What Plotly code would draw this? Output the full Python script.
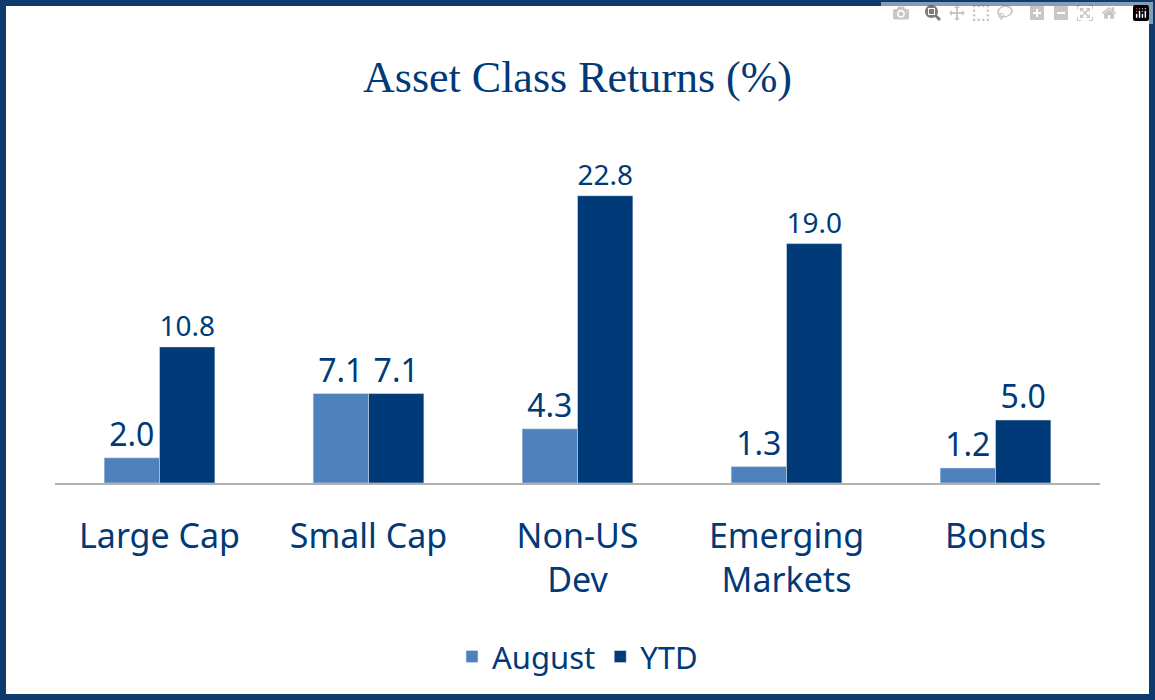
import plotly.graph_objects as go

categories = ["Large Cap", "Small Cap", "Non-US<br>Dev", "Emerging<br>Markets", "Bonds"]
august = [2.0, 7.1, 4.3, 1.3, 1.2]
ytd = [10.8, 7.1, 22.8, 19.0, 5.0]

navy = "#003a78"
light = "#4f81bd"
font = "Noto Sans"

fig = go.Figure()
fig.add_bar(name="August", x=categories, y=august, marker_color=light,
            text=[f"{v:.1f}" for v in august], textposition="outside",
            textfont=dict(size=32, color=navy, family=font), cliponaxis=False)
fig.add_bar(name="YTD", x=categories, y=ytd, marker_color=navy,
            text=[f"{v:.1f}" for v in ytd], textposition="outside",
            textfont=dict(size=32, color=navy, family=font), cliponaxis=False)

L, R, T, B = 55, 55, 105, 217
W, H = 1155, 700
pw, ph = W - L - R, H - T - B
fig.update_layout(
    width=W, height=H, margin=dict(l=L, r=R, t=T, b=B),
    paper_bgcolor="white", plot_bgcolor="white",
    barmode="group", bargap=0.47, bargroupgap=0,
    title=dict(text="Asset Class Returns (%)", x=0.5, xanchor="center", y=0.89, yanchor="middle",
               font=dict(family="Liberation Serif", size=44, color=navy)),
    xaxis=dict(showline=True, linecolor="#b0b0b0", linewidth=2, ticks="outside",
               ticklen=22, tickcolor="rgba(0,0,0,0)",
               tickfont=dict(family=font, size=34, color=navy)),
    yaxis=dict(range=[0, 30], visible=False),
    legend=dict(orientation="h", x=0.5, xanchor="center", y=-0.46, yanchor="middle",
                font=dict(family=font, size=31, color=navy)),
    shapes=[dict(type="rect", xref="paper", yref="paper",
                 x0=(3 - L) / pw, x1=(W - 3 - L) / pw,
                 y0=-(H - 3 - (H - B)) / ph, y1=((H - B) - 3) / ph,
                 line=dict(color="#0f3a6e", width=6))],
)
fig.write_html("out.html", post_script="document.body.style.margin='0';document.body.style.overflow='hidden';")
